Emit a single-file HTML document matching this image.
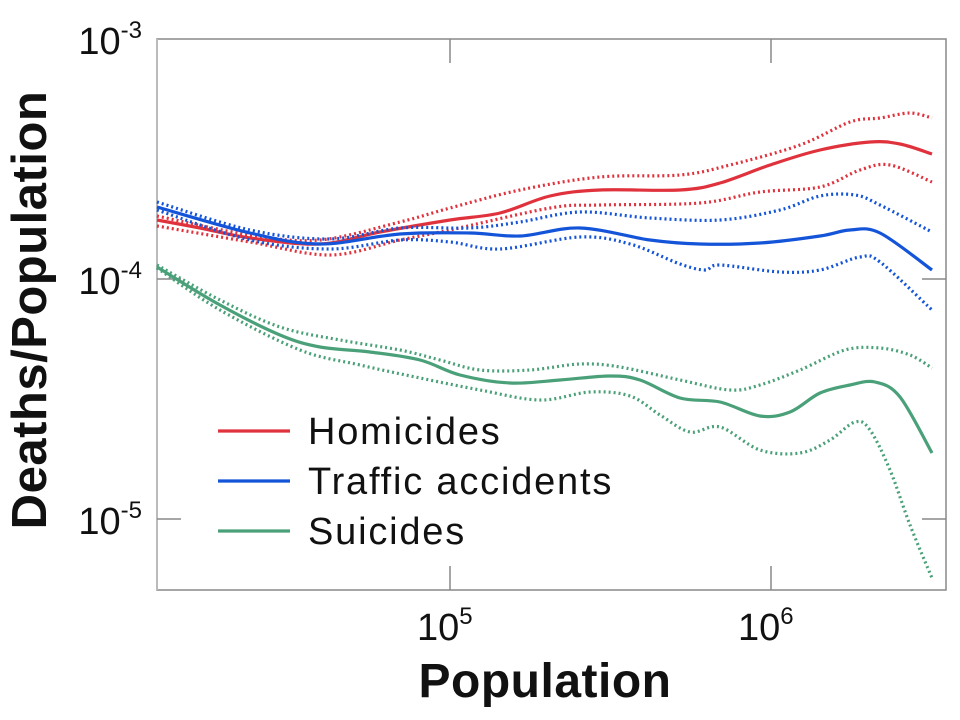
<!DOCTYPE html>
<html><head><meta charset="utf-8"><style>
html,body{margin:0;padding:0;background:#fff;}
svg{display:block;font-family:"Liberation Sans",sans-serif;}
</style></head><body>
<svg id="s" width="960" height="720" viewBox="0 0 960 720" xmlns="http://www.w3.org/2000/svg">
<rect x="157" y="39" width="789" height="551" fill="none" stroke="#888" stroke-width="1.5"/>
<line x1="157" y1="39" x2="157" y2="590" stroke="#bbb" stroke-width="2"/>
<g stroke="#888" stroke-width="1.5">
<line x1="450" y1="39" x2="450" y2="63"/><line x1="771" y1="39" x2="771" y2="63"/>
<line x1="450" y1="590" x2="450" y2="566"/><line x1="771" y1="590" x2="771" y2="566"/>
<line x1="157" y1="279" x2="181" y2="279"/><line x1="946" y1="279" x2="922" y2="279"/>
<line x1="157" y1="519" x2="181" y2="519"/><line x1="946" y1="519" x2="922" y2="519"/>
</g>
<g fill="none" stroke-linejoin="round" stroke-width="3.2">
<g stroke="#e0323c">
<polyline points="157,220 200,228 250,238 320,244 380,232 450,220 500,213 550,196 600,190 680,190 720,183 770,165 820,150 870,142 900,144 932,154"/>
<polyline stroke-dasharray="2 3" points="157,216 250,235 320,240 400,222 450,208 520,190 600,177 680,175 730,165 800,145 850,122 880,118 910,113 932,118"/>
<polyline stroke-dasharray="2 3" points="157,226 250,242 330,255 400,240 450,230 550,208 600,205 700,203 760,192 820,187 860,170 890,165 932,182"/>
</g>
<g stroke="#1454d8">
<polyline points="157,207 250,233 320,244 400,234 470,233 520,236 580,228 650,240 700,244 760,243 820,236 850,230 880,233 932,270"/>
<polyline stroke-dasharray="2 3" points="157,202 250,230 330,239 400,228 470,228 520,222 580,212 650,218 720,220 780,210 820,196 855,195 880,205 932,232"/>
<polyline stroke-dasharray="2 3" points="157,210 250,240 330,249 400,240 450,242 500,249 580,237 630,244 680,264 705,270 720,265 780,272 820,270 860,257 880,262 932,310"/>
</g>
<g stroke="#4aa078">
<polyline points="157,267 220,305 280,335 320,347 370,352 420,360 460,375 510,383 560,380 610,376 640,380 680,398 720,402 760,416 790,412 820,393 850,385 875,382 900,397 932,453"/>
<polyline stroke-dasharray="2 3" points="157,265 220,300 280,327 340,340 400,350 440,360 480,370 530,370 580,364 620,367 680,380 730,390 760,385 800,370 845,350 880,348 910,355 932,368"/>
<polyline stroke-dasharray="2 3" points="157,268 220,310 300,350 360,365 420,378 480,390 540,400 590,392 630,396 660,415 690,432 720,427 760,450 800,453 830,440 855,422 870,430 890,470 910,525 932,578"/>
</g>
<line x1="218" y1="431" x2="290" y2="431" stroke="#e0323c"/>
<line x1="218" y1="481" x2="290" y2="481" stroke="#1454d8"/>
<line x1="218" y1="531" x2="290" y2="531" stroke="#4aa078"/>
</g>
<g font-size="38" fill="#111" letter-spacing="1.8">
<text x="308" y="444">Homicides</text>
<text x="308" y="494">Traffic accidents</text>
<text x="308" y="544">Suicides</text>
</g>
<g font-size="38" fill="#111" text-anchor="end">
<text x="142" y="54">10<tspan font-size="24" dy="-16">-3</tspan></text>
<text x="142" y="294">10<tspan font-size="24" dy="-16">-4</tspan></text>
<text x="142" y="534">10<tspan font-size="24" dy="-16">-5</tspan></text>
</g>
<g font-size="38" fill="#111">
<text x="417" y="640">10<tspan font-size="24" dy="-16">5</tspan></text>
<text x="738" y="640">10<tspan font-size="24" dy="-16">6</tspan></text>
</g>
<text x="545" y="697" font-size="48" font-weight="bold" text-anchor="middle" fill="#111" letter-spacing="0.5">Population</text>
<text transform="translate(46,310) rotate(-90)" font-size="49" font-weight="bold" text-anchor="middle" fill="#111" letter-spacing="0.5">Deaths/Population</text>
</svg>
<script>
document.querySelectorAll('polyline').forEach(function(pl){
  var p=pl.getAttribute('points').trim().split(/\s+/).map(function(s){return s.split(',').map(Number);});
  var d='M'+p[0][0]+','+p[0][1];
  for(var i=0;i<p.length-1;i++){
    var p0=p[i-1]||p[i],p1=p[i],p2=p[i+1],p3=p[i+2]||p2;
    var c1=[p1[0]+(p2[0]-p0[0])/6,p1[1]+(p2[1]-p0[1])/6];
    var c2=[p2[0]-(p3[0]-p1[0])/6,p2[1]-(p3[1]-p1[1])/6];
    d+=' C'+c1[0].toFixed(1)+','+c1[1].toFixed(1)+' '+c2[0].toFixed(1)+','+c2[1].toFixed(1)+' '+p2[0]+','+p2[1];
  }
  var path=document.createElementNS('http://www.w3.org/2000/svg','path');
  path.setAttribute('d',d);
  if(pl.getAttribute('stroke-dasharray'))path.setAttribute('stroke-dasharray',pl.getAttribute('stroke-dasharray'));
  pl.parentNode.replaceChild(path,pl);
});
</script>
</body></html>
